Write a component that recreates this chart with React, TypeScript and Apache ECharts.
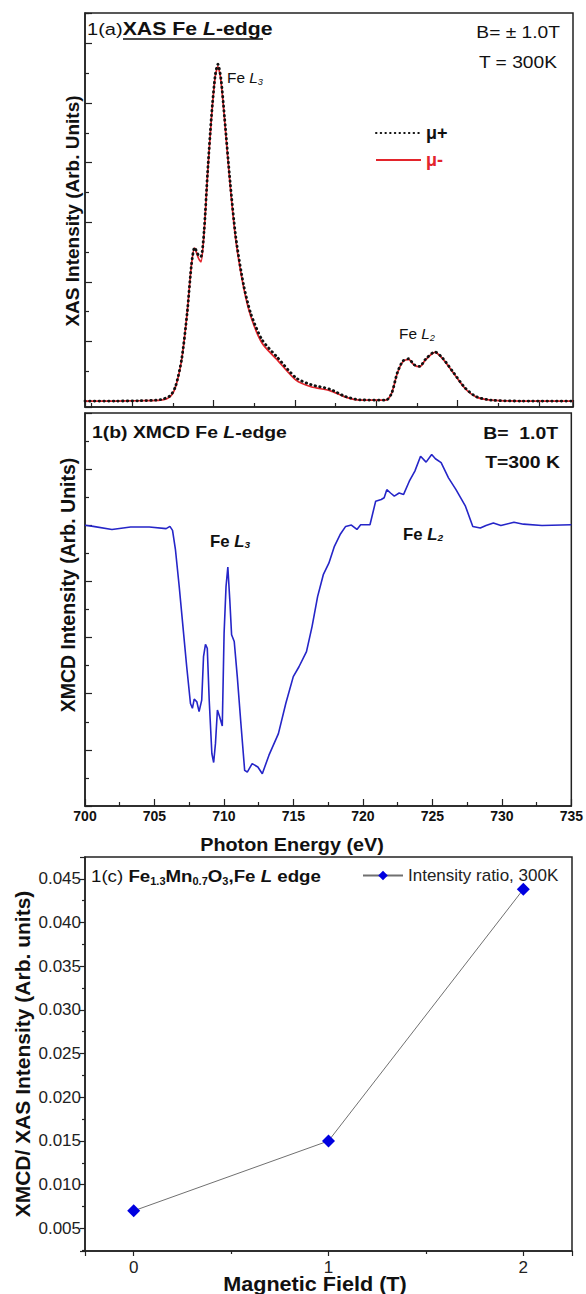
import React, { useEffect, useRef } from "react";
import * as echarts from "echarts";

// ---------- Panel (a): XAS Fe L-edge ----------
const xasEnergy = [702.1, 704.0, 705.5, 706.75, 707.34, 707.67, 708.04, 708.38, 708.65, 708.84, 709.07, 709.23, 709.42, 709.64, 709.88, 710.11, 710.27, 710.45, 710.68, 711.03, 711.37, 711.84, 712.3, 712.99, 713.92, 715.07, 715.99, 717.15, 718.07, 718.99, 720.6, 720.95, 721.3, 721.64, 721.99, 722.33, 722.68, 723.03, 723.61, 724.07, 724.76, 725.45, 726.14, 727.07, 729.0, 732.1];
const muMinus = [0, 0, 0.01, 0.03, 0.15, 0.48, 1.38, 2.95, 4.6, 5.13, 4.8, 4.67, 5.63, 7.64, 9.54, 10.9, 11.22, 10.77, 9.43, 7.19, 5.4, 3.84, 2.83, 1.94, 1.38, 0.7, 0.48, 0.35, 0.14, 0.03, 0.03, 0.26, 0.93, 1.32, 1.4, 1.21, 1.15, 1.38, 1.63, 1.43, 0.93, 0.43, 0.14, 0.03, 0, 0];
const muPlus = [0, 0, 0.01, 0.05, 0.18, 0.5, 1.4, 2.95, 4.6, 5.15, 4.9, 4.85, 5.7, 7.7, 9.6, 10.95, 11.3, 10.85, 9.5, 7.3, 5.5, 3.92, 2.92, 2.05, 1.47, 0.78, 0.55, 0.4, 0.16, 0.04, 0.03, 0.26, 0.95, 1.34, 1.42, 1.22, 1.16, 1.4, 1.65, 1.45, 0.95, 0.45, 0.15, 0.03, 0, 0];

// ---------- Panel (b): XMCD Fe L-edge ----------
const xmcdEnergy = [700, 700.59, 701.94, 703.28, 704.63, 705.84, 706.11, 706.3, 706.51, 706.78, 707.05, 707.32, 707.59, 707.73, 707.86, 708.05, 708.21, 708.4, 708.53, 708.67, 708.8, 708.94, 709.13, 709.26, 709.39, 709.53, 709.69, 709.88, 710.01, 710.15, 710.28, 710.42, 710.55, 710.74, 710.96, 711.22, 711.49, 711.68, 712.03, 712.44, 712.76, 713.24, 713.92, 714.45, 714.99, 715.4, 715.94, 716.34, 716.74, 717.15, 717.55, 717.95, 718.36, 718.76, 719.17, 719.57, 719.84, 720.51, 720.92, 721.32, 721.53, 721.72, 721.99, 722.26, 722.61, 722.93, 723.34, 723.74, 724.15, 724.55, 724.95, 725.22, 725.63, 726.16, 726.7, 727.38, 727.91, 728.45, 728.86, 729.39, 729.93, 730.87, 731.55, 732.89, 735];
const xmcdValue = [0, -0.04, -0.15, -0.06, -0.06, -0.12, -0.04, -0.18, -0.87, -2.18, -3.61, -5.04, -6.35, -6.52, -6.19, -6.29, -6.64, -6.23, -4.68, -4.24, -4.38, -6.23, -8.13, -8.45, -7.77, -6.58, -6.82, -7.15, -3.85, -2.18, -1.49, -2.65, -3.9, -4.14, -5.39, -7.06, -8.73, -8.79, -8.49, -8.61, -8.85, -8.19, -7.42, -6.35, -5.39, -5.04, -4.5, -3.61, -2.54, -1.76, -1.35, -0.75, -0.33, -0.04, 0.01, -0.15, 0.02, 0.02, 0.86, 0.92, 0.98, 1.27, 1.15, 1.04, 1.15, 1.1, 1.57, 1.93, 2.46, 2.25, 2.52, 2.37, 2.23, 1.69, 1.27, 0.68, -0.04, -0.1, -0.01, 0.08, -0.01, 0.11, 0.04, -0.01, 0.02];

// ---------- Panel (c): intensity ratio ----------
const fieldT = [0, 1, 2];
const ratio = [0.007, 0.015, 0.0438];

const F = "Liberation Sans, Arial, sans-serif";
const AX = "#222";

function txt(x: number, y: number, text: string, o: any = {}) {
  return {
    type: "text",
    x,
    y,
    rotation: o.rotation || 0,
    scaleX: o.scaleX || 1,
    z: 50,
    style: {
      text,
      fontFamily: F,
      fontSize: o.size || 17,
      fontWeight: o.weight || "normal",
      fill: o.color || "#111",
      textAlign: o.align || "left",
      textVerticalAlign: "middle",
      rich: o.rich,
    },
  };
}

export default function App() {
  const ref = useRef<HTMLDivElement>(null);
  useEffect(() => {
    if (!ref.current) return;
    const chart = echarts.init(ref.current, undefined, { renderer: "svg" });
    const tickStyle = { color: AX, width: 1.2 };
    const axisLine = { show: true, onZero: false, lineStyle: { color: AX, width: 1.5 } };
    const isMult = (v: number, s: number) => Math.abs(v / s - Math.round(v / s)) < 1e-6;

    const richA = {
      n: { fontFamily: F, fontSize: 17, color: "#222" },
      b: { fontFamily: F, fontSize: 17, fontWeight: "bold", color: "#111" },
      bi: { fontFamily: F, fontSize: 17, fontWeight: "bold", fontStyle: "italic", color: "#111" },
      g: { fontFamily: F, fontSize: 17, color: "#888" },
    };
    const richT = {
      n: { fontFamily: F, fontSize: 17, color: "#222" },
      b: { fontFamily: F, fontSize: 18, fontWeight: "bold", color: "#111" },
      bi: { fontFamily: F, fontSize: 18, fontWeight: "bold", fontStyle: "italic", color: "#111" },
    };
    const richFe = (size: number, weight: string) => ({
      n: { fontFamily: F, fontSize: size, fontWeight: weight, color: "#222" },
      i: { fontFamily: F, fontSize: size, fontWeight: weight, fontStyle: "italic", color: "#222" },
      s: { fontFamily: F, fontSize: size * 0.6, fontWeight: weight, fontStyle: "italic", color: "#222", verticalAlign: "bottom", padding: [8, 0, 0, 0] },
    });
    const richC = {
      n: { fontFamily: F, fontSize: 17, color: "#111" },
      b: { fontFamily: F, fontSize: 17, fontWeight: "bold", color: "#111" },
      bi: { fontFamily: F, fontSize: 17, fontWeight: "bold", fontStyle: "italic", color: "#111" },
      s: { fontFamily: F, fontSize: 10, fontWeight: "bold", color: "#111", padding: [10, 0, 0, 0] },
    };

    const option: any = {
      animation: false,
      backgroundColor: "#fff",
      grid: [
        { left: 85, top: 13, width: 488, height: 394, show: true, borderColor: AX, borderWidth: 1.5 },
        { left: 85, top: 413, width: 488, height: 393, show: true, borderColor: AX, borderWidth: 1.5 },
        { left: 85, top: 857, width: 487, height: 394, show: true, borderColor: AX, borderWidth: 1.5 },
      ],
      xAxis: [
        {
          type: "value", gridIndex: 0, min: 702.1, max: 732.1, splitNumber: 6,
          axisLine, splitLine: { show: false }, axisLabel: { show: false },
          axisTick: { inside: true, length: 7, lineStyle: tickStyle },
          minorTick: { show: true, splitNumber: 2, length: 4, lineStyle: tickStyle },
        },
        {
          type: "value", gridIndex: 1, min: 700, max: 735, interval: 5,
          axisLine, splitLine: { show: false },
          axisLabel: { fontFamily: F, fontSize: 14, fontWeight: "bold", color: "#111", margin: 3 },
          axisTick: { inside: true, length: 7, lineStyle: tickStyle },
          minorTick: { show: true, splitNumber: 2, length: 4, lineStyle: tickStyle },
        },
        {
          type: "value", gridIndex: 2, min: -0.25, max: 2.25, splitNumber: 2,
          axisLine, splitLine: { show: false },
          axisLabel: {
            fontFamily: F, fontSize: 17, color: "#222", margin: 8,
            formatter: (v: number) => (isMult(v, 1) ? String(Math.round(v)) : ""),
          },
          axisTick: { inside: false, length: 5, lineStyle: tickStyle },
          minorTick: { show: true, splitNumber: 2, length: 3, lineStyle: tickStyle },
        },
      ],
      yAxis: [
        {
          type: "value", gridIndex: 0, min: -0.2, max: 13.02, splitNumber: 6,
          axisLine, splitLine: { show: false }, axisLabel: { show: false },
          axisTick: { inside: true, length: 7, lineStyle: tickStyle },
          minorTick: { show: true, splitNumber: 2, length: 4, lineStyle: tickStyle },
        },
        {
          type: "value", gridIndex: 1, min: -10, max: 4, interval: 2,
          axisLine, splitLine: { show: false }, axisLabel: { show: false },
          axisTick: { inside: true, length: 7, lineStyle: tickStyle },
          minorTick: { show: true, splitNumber: 2, length: 4, lineStyle: tickStyle },
        },
        {
          type: "value", gridIndex: 2, min: 0.0024, max: 0.0475, splitNumber: 9,
          axisLine, splitLine: { show: false },
          axisLabel: {
            fontFamily: F, fontSize: 17, color: "#222", margin: 4,
            formatter: (v: number) => (isMult(v, 0.005) ? v.toFixed(3) : ""),
          },
          axisTick: { inside: false, length: 5, lineStyle: tickStyle },
          minorTick: { show: true, splitNumber: 2, length: 3, lineStyle: tickStyle },
        },
      ],
      legend: [
        {
          orient: "vertical", left: 370, top: 119, itemWidth: 45, itemHeight: 10, itemGap: 9,
          selectedMode: false,
          itemStyle: { color: "rgba(0,0,0,0)", borderWidth: 0, opacity: 0 },
          textStyle: { fontFamily: F, fontSize: 18, fontWeight: "bold" },
          data: [
            { name: "μ+", textStyle: { color: "#111", fontWeight: "bold" } },
            { name: "μ-", textStyle: { color: "#e3242b", fontWeight: "bold" } },
          ],
        },
        {
          left: 357, top: 862, itemWidth: 40, itemHeight: 12, itemGap: 6,
          selectedMode: false,
          textStyle: { fontFamily: F, fontSize: 17, color: "#222" },
          data: ["Intensity ratio, 300K"],
        },
      ],
      series: [
        {
          name: "μ-", type: "line", xAxisIndex: 0, yAxisIndex: 0, symbol: "none", smooth: 0.25, z: 2,
          data: xasEnergy.map((e, i) => [e, muMinus[i]]),
          lineStyle: { color: "#e3242b", width: 1.7 },
          itemStyle: { color: "#e3242b" },
        },
        {
          name: "μ+", type: "line", xAxisIndex: 0, yAxisIndex: 0, symbol: "none", smooth: 0.25, z: 3,
          data: xasEnergy.map((e, i) => [e, muPlus[i]]),
          lineStyle: { color: "#111", width: 2.8, type: [0.5, 4.2], cap: "round" },
          itemStyle: { color: "#111" },
        },
        {
          name: "XMCD", type: "line", xAxisIndex: 1, yAxisIndex: 1, symbol: "none",
          data: xmcdEnergy.map((e, i) => [e, xmcdValue[i]]),
          lineStyle: { color: "#2525c8", width: 1.6 },
        },
        {
          name: "Intensity ratio, 300K", type: "line", xAxisIndex: 2, yAxisIndex: 2,
          symbol: "diamond", symbolSize: 13,
          data: fieldT.map((f, i) => [f, ratio[i]]),
          lineStyle: { color: "#707070", width: 1 },
          itemStyle: { color: "#0000e0" },
        },
      ],
      graphic: [
        // panel a
        txt(87, 29, "{n|1(a)}{b|XAS Fe }{bi|L}{b|-edge}", { scaleX: 1.18, rich: richT }),
        { type: "line", z: 50, shape: { x1: 123, y1: 39, x2: 263, y2: 39 }, style: { stroke: "#111", lineWidth: 1.5 } },
        txt(560, 32, "{n|B= }{g|±}{n| 1.0T}", { align: "right", scaleX: 1.13, rich: richA }),
        txt(557, 62, "T = 300K", { align: "right", scaleX: 1.13 }),
        txt(227, 78, "{n|Fe }{i|L}{s|3}", { size: 14, scaleX: 1.1, rich: richFe(14, "normal") }),
        txt(399, 334, "{n|Fe }{i|L}{s|2}", { size: 14, scaleX: 1.1, rich: richFe(14, "normal") }),
        txt(72, 211, "XAS Intensity (Arb. Units)", { size: 19, weight: "bold", align: "center", rotation: Math.PI / 2 }),
        // panel b
        txt(92, 432, "{b|1(b) XMCD Fe }{bi|L}{b|-edge}", { scaleX: 1.14, rich: richA }),
        txt(558, 433, "B=  1.0T", { align: "right", weight: "bold", scaleX: 1.14 }),
        txt(560, 462, "T=300 K", { align: "right", weight: "bold", scaleX: 1.14 }),
        txt(210, 541, "{n|Fe }{i|L}{s|3}", { size: 16, scaleX: 1.05, rich: richFe(16, "bold") }),
        txt(403, 534, "{n|Fe }{i|L}{s|2}", { size: 16, scaleX: 1.05, rich: richFe(16, "bold") }),
        txt(68, 585, "XMCD Intensity (Arb. Units)", { size: 19.5, weight: "bold", align: "center", rotation: Math.PI / 2 }),
        txt(292, 845, "Photon Energy (eV)", { size: 18, weight: "bold", align: "center", scaleX: 1.1 }),
        // panel c
        txt(91, 876, "{n|1(c) }{b|Fe}{s|1.3}{b|Mn}{s|0.7}{b|O}{s|3}{b|,Fe }{bi|L}{b| edge}", { scaleX: 1.1, rich: richC }),
        txt(22, 1054, "XMCD/ XAS Intensity (Arb. units)", { size: 21, weight: "bold", align: "center", rotation: Math.PI / 2 }),
        txt(315, 1284, "Magnetic Field (T)", { size: 20, weight: "bold", align: "center", scaleX: 1.08 }),
      ],
    };
    chart.setOption(option);
    return () => chart.dispose();
  }, []);
  return (
    <div
      ref={ref}
      style={{ position: "absolute", left: 0, top: 0, width: 586, height: 1294, background: "#fff" }}
    />
  );
}
